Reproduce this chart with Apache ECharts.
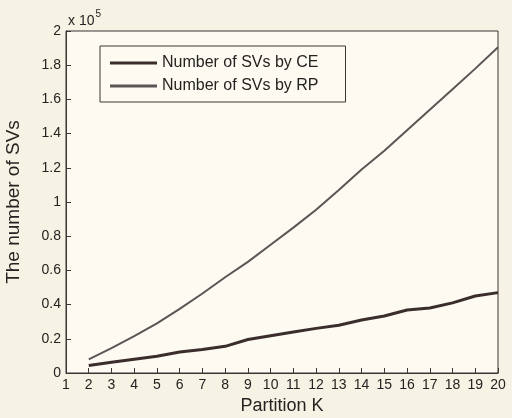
<!DOCTYPE html>
<html><head><meta charset="utf-8">
<script src="https://cdn.jsdelivr.net/npm/echarts@6/dist/echarts.min.js"></script>
<style>html,body{margin:0;padding:0;background:#f6f2e4}#c{width:512px;height:418px}</style>
</head><body><div id="c"></div>
<script>
const partitions = [2,3,4,5,6,7,8,9,10,11,12,13,14,15,16,17,18,19,20];
const svsCE = [4400,6300,8100,9800,12300,13700,15600,19600,21800,24000,26100,27900,31000,33300,36800,38000,41000,45000,47000];
const svsRP = [8000,14500,21500,29000,37500,46500,56000,65000,75000,85000,95500,107000,119000,130000,142000,154000,166000,178000,190500];
const seriesNames = ['Number of SVs by CE','Number of SVs by RP'];
const yTickStep = 20000;

const font = '"Liberation Sans", Arial, sans-serif';
const ink = '#262222';
const chart = echarts.init(document.getElementById('c'));
chart.setOption({
  backgroundColor: '#f6f2e4',
  animation: false,
  textStyle: {fontFamily: font, color: ink},
  grid: {left: 66, top: 31, width: 432, height: 342, outerBoundsMode: 'none', containLabel: false,
         show: true, borderColor: '#3a3434', borderWidth: 1, backgroundColor: '#fcfaf1'},
  legend: {
    orient: 'vertical', left: 100, top: 46, padding: [9, 27, 8, 10],
    borderColor: '#3a3434', borderWidth: 1, backgroundColor: '#fcfaf1',
    itemWidth: 47, itemHeight: 3, itemGap: 7, icon: 'rect',
    textStyle: {fontFamily: font, fontSize: 16, color: ink, lineHeight: 16},
    data: seriesNames
  },
  xAxis: {
    type: 'value', min: 1, max: 20, interval: 1,
    name: 'Partition K', nameLocation: 'middle', nameGap: 23,
    nameTextStyle: {fontFamily: font, fontSize: 18, color: ink},
    axisLine: {lineStyle: {color: '#3a3434'}},
    axisTick: {inside: true, length: 5, lineStyle: {color: '#3a3434'}},
    axisLabel: {fontFamily: font, fontSize: 14, color: ink, margin: 5},
    splitLine: {show: false}
  },
  yAxis: {
    type: 'value', min: 0, max: 200000, interval: yTickStep,
    name: 'The number of SVs', nameLocation: 'middle', nameGap: 43, nameRotate: 90,
    nameTextStyle: {fontFamily: font, fontSize: 19, color: ink},
    axisLine: {lineStyle: {color: '#3a3434'}},
    axisTick: {inside: true, length: 5, lineStyle: {color: '#3a3434'}},
    axisLabel: {fontFamily: font, fontSize: 14, color: ink, margin: 5,
      formatter: v => String(+(v / 1e5).toFixed(1))},
    splitLine: {show: false}
  },
  graphic: [{
    type: 'text', left: 68, top: 9,
    style: {
      text: '{a|x 10}{b|5}', fill: ink,
      rich: {a: {fontFamily: font, fontSize: 14, color: ink, verticalAlign: 'bottom'},
             b: {fontFamily: font, fontSize: 10, color: ink, verticalAlign: 'top', padding: [0,0,9,1]}}
    }
  }],
  series: [
    {name: seriesNames[0], type: 'line', symbol: 'none', data: partitions.map((k,i)=>[k, svsCE[i]]),
     lineStyle: {color: '#3b2d2b', width: 3}, itemStyle: {color: '#3b2d2b'}},
    {name: seriesNames[1], type: 'line', symbol: 'none', data: partitions.map((k,i)=>[k, svsRP[i]]),
     lineStyle: {color: '#5c5555', width: 2}, itemStyle: {color: '#5c5555'}}
  ]
});
</script></body></html>
